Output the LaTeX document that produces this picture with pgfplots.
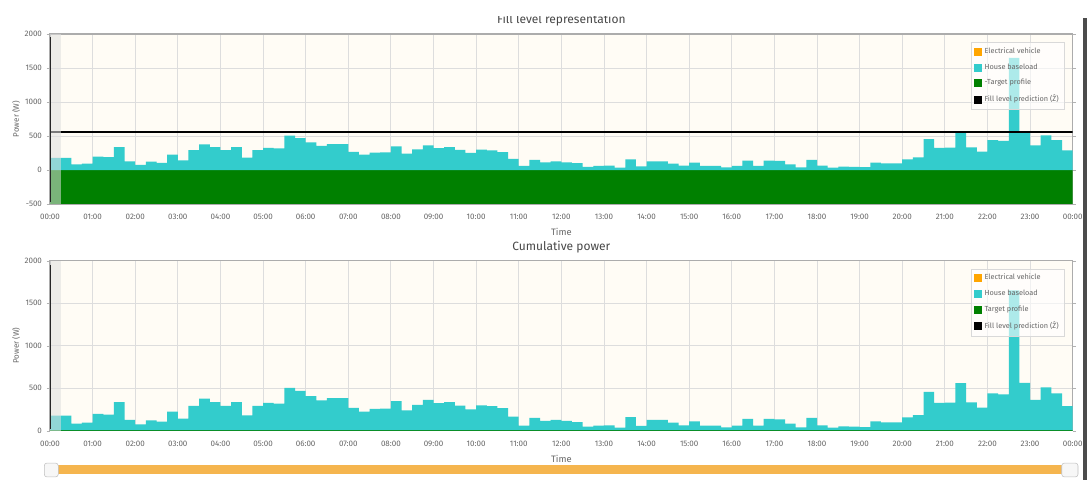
\documentclass[border=0pt]{standalone}
\usepackage{fontspec}
\setmainfont{Fira Sans}
\usepackage{pgfplots}
\usepackage{pgfplotstable}
\pgfplotsset{compat=1.18}

\definecolor{teal1}{HTML}{33CCCC}
\definecolor{tgreen}{HTML}{008000}
\definecolor{bgc}{HTML}{FFFCF5}
\definecolor{gridc}{HTML}{DDDDDD}
\definecolor{txt}{HTML}{666666}
\definecolor{slider}{HTML}{F5B54E}
\definecolor{evorange}{HTML}{FFA500}

% house baseload, 15 min steps (W)
\pgfplotstableread{
t v
0 177
0.25 177
0.5 83
0.75 95
1 197
1.25 189
1.5 335
1.75 126
2 75
2.25 122
2.5 106
2.75 225
3 142
3.25 292
3.5 378
3.75 335
4 292
4.25 335
4.5 181
4.75 292
5 327
5.25 319
5.5 504
5.75 469
6 406
6.25 355
6.5 382
6.75 382
7 268
7.25 225
7.5 256
7.75 260
8 347
8.25 240
8.5 303
8.75 362
9 323
9.25 335
9.5 296
9.75 252
10 299
10.25 288
10.5 264
10.75 165
11 59
11.25 150
11.5 114
11.75 126
12 114
12.25 102
12.5 47
12.75 59
13 63
13.25 35
13.5 158
13.75 55
14 126
14.25 126
14.5 95
14.75 63
15 110
15.25 59
15.5 59
15.75 39
16 59
16.25 138
16.5 59
16.75 138
17 134
17.25 83
17.5 39
17.75 150
18 63
18.25 35
18.5 51
18.75 47
19 43
19.25 110
19.5 98
19.75 98
20 157
20.25 184
20.5 455
20.75 326
21 330
21.25 558
21.5 334
21.75 271
22 440
22.25 428
22.5 1650
22.75 561
23 361
23.25 510
23.5 440
23.75 290
24 290
}\baseload

\pgfplotsset{
  sq/.style={legend image code/.code={\fill[#1, fill opacity=1] (0pt,-2.6pt) rectangle (5.2pt,2.6pt);}},
  panel/.style={
    scale only axis, width=767pt, height=127.5pt,
    anchor=south west,
    xmin=0, xmax=24, ymax=2000,
    xtick={0,1,...,24},
    xticklabels={00:00,01:00,02:00,03:00,04:00,05:00,06:00,07:00,08:00,09:00,10:00,11:00,12:00,13:00,14:00,15:00,16:00,17:00,18:00,19:00,20:00,21:00,22:00,23:00,00:00},
    grid=major, major grid style={gridc, line width=0.6pt},
    axis background/.style={fill=bgc},
    axis line style={draw=gray!65, line width=0.9pt},
    tick align=outside, major tick length=2.5pt,
    xtick style={draw=none}, ytick style={draw=gray!60},
    tick label style={font=\fontsize{6}{7}\selectfont, text=txt},
    /pgf/number format/assume math mode=true,
    /pgf/number format/1000 sep={},
    xticklabel shift=1.5pt,
    yticklabel shift=0pt,
    xlabel={Time}, ylabel={Power (W)},
    xlabel style={at={(axis description cs:0.5,0)}, anchor=center, yshift=-21pt, font=\fontsize{7}{8}\selectfont, text=txt},
    ylabel style={at={(axis description cs:0,0.5)}, anchor=center, yshift=25.5pt, font=\fontsize{6}{7}\selectfont, text=txt},
    title style={at={(axis description cs:0.5,1)}, anchor=center, yshift=4.5pt, font=\fontsize{9}{10}\selectfont, text=black!72},
    legend cell align=left,
    legend style={at={(1,1)}, anchor=north east, xshift=-6.3pt, yshift=-6pt,
      font=\fontsize{5.5}{6}\selectfont, text=txt, fill=white, fill opacity=0.6,
      text opacity=1, draw=gray!30, row sep=2.2pt, inner sep=2pt},
  }
}

\begin{document}
\begin{tikzpicture}
\path[use as bounding box] (0,0) rectangle (819pt,360pt);

% top panel
\begin{axis}[panel, at={(37.5pt,207pt)}, ymin=-500,
  ytick={-500,0,500,1000,1500,2000},
  title={Fill level representation}]
\addlegendimage{sq=evorange}
\addlegendentry{Electrical vehicle}
\addlegendimage{sq=teal1}
\addlegendentry{House baseload}
\addlegendimage{sq=tgreen}
\addlegendentry{-Target profile}
\addlegendimage{sq=black}
\addlegendentry{Fill level prediction (\^{Z})}
\addplot[forget plot, ybar interval, fill=tgreen, draw=none] coordinates {(0,-500) (24,-500)};
\addplot[forget plot, ybar interval, fill=teal1, draw=none] table[x=t, y=v] {\baseload};
\addplot[forget plot, black, line width=1.6pt] coordinates {(0,563) (24,563)};
\fill[gray!25, opacity=0.55] (axis cs:0,-500) rectangle (axis cs:0.25,2000);
\draw[black!85, line width=1.6pt] (axis cs:0,1950) -- (axis cs:0,-470);
\end{axis}

% bottom panel
\begin{axis}[panel, at={(37.5pt,37pt)}, ymin=0,
  ytick={0,500,1000,1500,2000},
  title={Cumulative power}]
\addlegendimage{sq=evorange}
\addlegendentry{Electrical vehicle}
\addlegendimage{sq=teal1}
\addlegendentry{House baseload}
\addlegendimage{sq=tgreen}
\addlegendentry{Target profile}
\addlegendimage{sq=black}
\addlegendentry{Fill level prediction (\^{Z})}
\addplot[forget plot, ybar interval, fill=teal1, draw=none] table[x=t, y=v] {\baseload};
\addplot[forget plot, tgreen!80!teal1, line width=1pt] coordinates {(0,0) (24,0)};
\fill[gray!25, opacity=0.55] (axis cs:0,0) rectangle (axis cs:0.25,2000);
\draw[black!85, line width=1.6pt] (axis cs:0,1950) -- (axis cs:0,20);
\end{axis}

% cut-off top of the first title
\fill[white] (0,348pt) rectangle (819pt,361pt);
% time range slider
\fill[slider] (43.5pt,4.5pt) rectangle (796.5pt,11.25pt);
\draw[gray!50, fill=gray!6, rounded corners=2pt] (33.2pt,2.3pt) rectangle (43.7pt,12.7pt);
\draw[gray!50, fill=gray!6, rounded corners=2pt] (796.3pt,2.3pt) rectangle (808.5pt,12.7pt);
% page edge on the right
\fill[black!70] (812.3pt,0) rectangle (815.2pt,346.5pt);
\end{tikzpicture}
\end{document}
